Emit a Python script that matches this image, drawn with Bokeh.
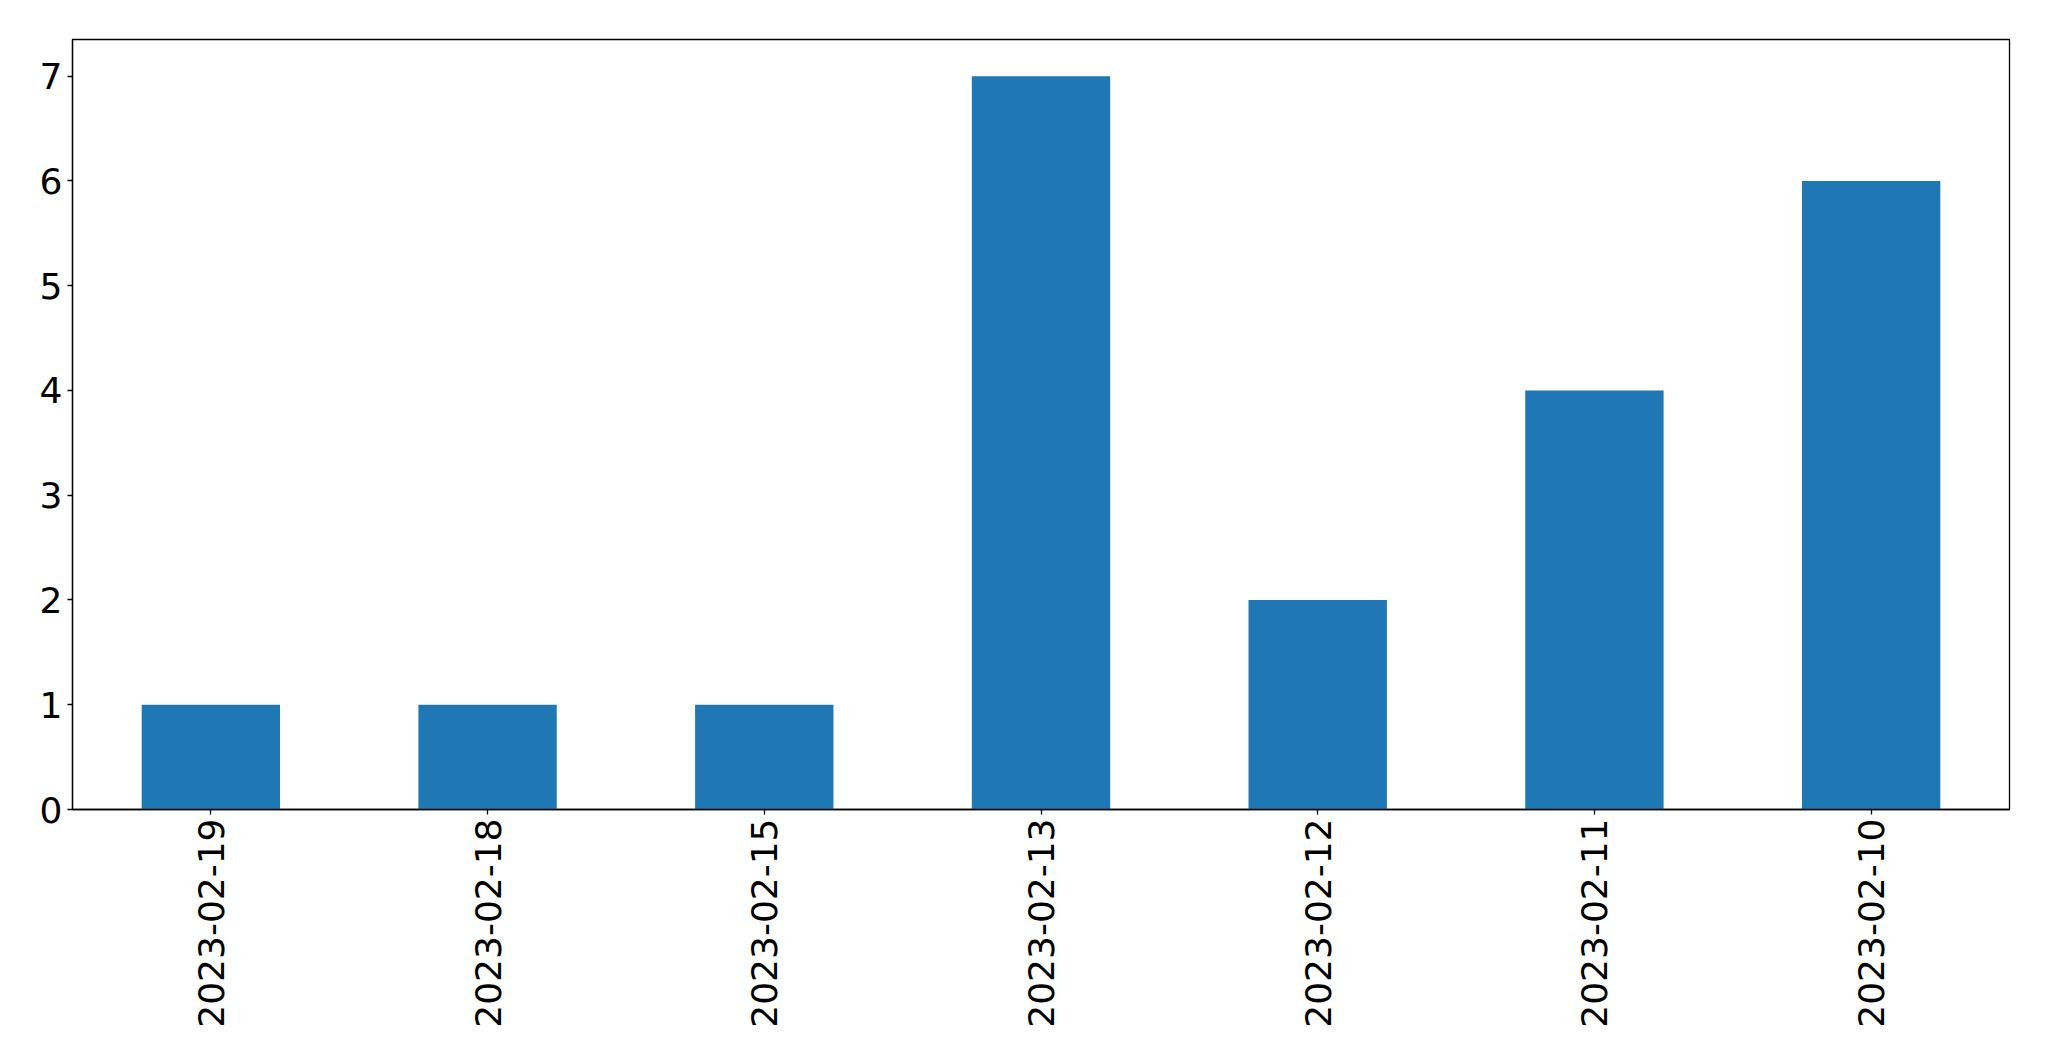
import math
from bokeh.plotting import figure
from bokeh.models import FixedTicker, Range1d
from bokeh.embed import file_html
from bokeh.resources import INLINE

dates = ["2023-02-19", "2023-02-18", "2023-02-15", "2023-02-13",
         "2023-02-12", "2023-02-11", "2023-02-10"]
counts = [1, 1, 1, 7, 2, 4, 6]
y_ticks = [0, 1, 2, 3, 4, 5, 6, 7]

W, H = 2033, 1045
p = figure(x_range=dates, y_range=Range1d(0, 7.35), width=W, height=H,
           output_backend="svg", toolbar_location=None,
           min_border_left=72, min_border_top=39,
           min_border_right=W - 2009, min_border_bottom=H - 809)
p.x_range.range_padding = 0
p.vbar(x=dates, top=counts, width=0.5, color="#1f77b4", line_color=None)

p.xgrid.visible = False
p.ygrid.visible = False
p.outline_line_color = "black"
p.outline_line_width = 1.3
p.background_fill_color = "white"
p.border_fill_color = "white"

p.yaxis.ticker = FixedTicker(ticks=y_ticks)
for ax in (p.xaxis[0], p.yaxis[0]):
    ax.major_label_text_font = "DejaVu Sans"
    ax.major_label_text_font_size = "36px"
    ax.major_label_text_color = "black"
    ax.major_tick_out = 5
    ax.major_tick_in = 0
    ax.major_tick_line_color = "black"
    ax.major_tick_line_width = 1.3
    ax.minor_tick_line_color = None
    ax.axis_line_color = "black"
    ax.axis_line_width = 1.3
p.yaxis.major_label_standoff = 5
p.xaxis.major_label_standoff = 4
p.xaxis.major_label_orientation = math.pi / 2

open("out.html", "w").write(file_html(p, INLINE))
